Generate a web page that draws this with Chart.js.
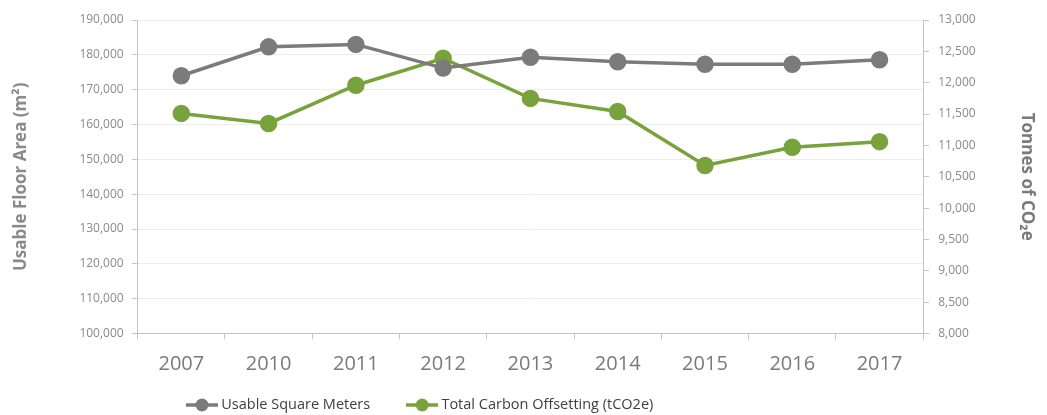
<!DOCTYPE html>
<html>
<head>
<meta charset="utf-8">
<script src="https://cdn.jsdelivr.net/npm/chart.js@4/dist/chart.umd.min.js"></script>
<style>
  html, body { margin: 0; padding: 0; background: #fff; }
  #wrap { width: 1047px; height: 415px; }
</style>
</head>
<body>
<div id="wrap"><canvas id="floorChart"></canvas></div>
<script>
var years = ['2007', '2010', '2011', '2012', '2013', '2014', '2015', '2016', '2017'];
var usableSquareMeters = [174000, 182300, 183000, 176200, 179300, 178000, 177300, 177300, 178600];
var carbonOffsetting = [11510, 11350, 11960, 12390, 11750, 11540, 10680, 10970, 11060];
var floorTicks = [100000, 190000, 10000];   // min, max, step
var carbonTicks = [8000, 13000, 500];

var greyColor = '#7b7b7b';
var greenColor = '#78a23b';
var textColor = '#8a8a8a';
var axisColor = '#c4c4c4';

Chart.defaults.font.family = '"Open Sans", sans-serif';

// line + dot marker for the legend
function legendMark(color) {
	var c = document.createElement('canvas');
	c.width = 32; c.height = 16;
	var g = c.getContext('2d');
	g.strokeStyle = color;
	g.lineWidth = 3.5;
	g.beginPath(); g.moveTo(0, 8); g.lineTo(32, 8); g.stroke();
	g.fillStyle = color;
	g.beginPath(); g.arc(16, 8, 6.5, 0, Math.PI * 2); g.fill();
	return c;
}
var legendMarks = [legendMark(greyColor), legendMark(greenColor)];

// move the legend left of centre and down, like the original
var legendShift = {
	id: 'legendShift',
	afterLayout: function (chart) {
		var lg = chart.legend;
		var pad = lg.options.labels.padding;
		var size = lg.options.labels.font.size;
		var start = (lg.left + pad + lg.right - lg.lineWidths[0]) / 2;
		var dx = 190 - start;
		var dy = 405 - (lg.top + pad + size / 2);
		lg.left += dx; lg.right += dx;
		lg.top += dy; lg.bottom += dy;
	}
};

var ctx = document.getElementById('floorChart').getContext('2d');
var floorChart = new Chart(ctx, {
	type: 'line',
	data: {
		labels: years,
		datasets: [{
			label: 'Usable Square Meters',
			data: usableSquareMeters,
			yAxisID: 'yFloor',
			borderColor: greyColor,
			backgroundColor: greyColor,
			borderWidth: 3.5,
			pointRadius: 7,
			pointHoverRadius: 7,
			tension: 0
		}, {
			label: 'Total Carbon Offsetting (tCO2e)',
			data: carbonOffsetting,
			yAxisID: 'yCarbon',
			borderColor: greenColor,
			backgroundColor: greenColor,
			borderWidth: 3.5,
			pointRadius: 7,
			pointHoverRadius: 7,
			tension: 0
		}]
	},
	options: {
		responsive: true,
		maintainAspectRatio: false,
		animation: false,
		layout: { padding: { top: 20, left: 0, right: 0, bottom: -39 } },
		plugins: {
			tooltip: { enabled: false },
			legend: {
				position: 'bottom',
				labels: {
					usePointStyle: true,
					pointStyleWidth: 24,
					padding: 40,
					color: '#404040',
					font: { size: 14.5 },
					generateLabels: function (chart) {
						var items = Chart.defaults.plugins.legend.labels.generateLabels(chart);
						items.forEach(function (item, i) { item.pointStyle = legendMarks[i]; });
						return items;
					}
				}
			}
		},
		scales: {
			x: {
				offset: true,
				border: { color: axisColor },
				grid: { offset: true, drawOnChartArea: false, tickLength: 6, tickColor: axisColor },
				ticks: { color: '#7a7a7a', font: { size: 20 }, padding: 13 }
			},
			yFloor: {
				position: 'left',
				min: floorTicks[0],
				max: floorTicks[1],
				border: { color: axisColor },
				grid: { color: '#ededed', tickLength: 6, tickColor: axisColor },
				ticks: { stepSize: floorTicks[2], color: textColor, font: { size: 12 }, padding: 8 },
				title: {
					display: true,
					text: 'Usable Floor Area (m\u00b2)',
					color: '#8a8a8a',
					font: { size: 17, weight: 'bold' },
					padding: { top: 11, bottom: 40 }
				}
			},
			yCarbon: {
				position: 'right',
				min: carbonTicks[0],
				max: carbonTicks[1],
				border: { color: axisColor },
				grid: { drawOnChartArea: false, tickLength: 6, tickColor: axisColor },
				ticks: { stepSize: carbonTicks[2], color: textColor, font: { size: 12 }, padding: 9 },
				title: {
					display: true,
					text: 'Tonnes of CO\u2082e',
					color: '#7a7a7a',
					font: { size: 17, weight: 'bold' },
					padding: { top: 10, bottom: 32 }
				}
			}
		}
	},
	plugins: [legendShift]
});
</script>
</body>
</html>
